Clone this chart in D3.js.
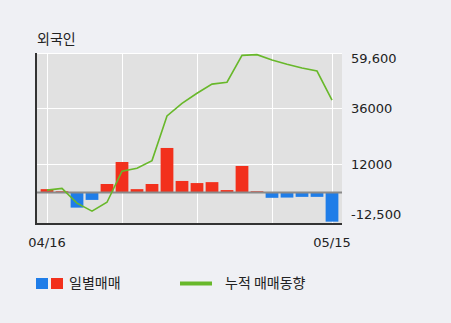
<!DOCTYPE html>
<html>
<head>
<meta charset="utf-8">
<script src="https://cdn.jsdelivr.net/npm/d3@7"></script>
<style>
    body { margin: 0; background: #eff0f4; }
    svg { display: block; font-family: "Noto Sans CJK KR", "Noto Sans", sans-serif; }
    .num { font-family: "DejaVu Sans", sans-serif; }
</style>
</head>
<body>
<svg id="drawing_region"></svg>
<script>
const dates = ["04/16","04/17","04/18","04/19","04/20","04/23","04/24","04/25","04/26","04/27",
               "04/30","05/02","05/03","05/04","05/08","05/09","05/10","05/11","05/14","05/15"];
const daily = [1400, 500, -6500, -3200, 3600, 13000, 1400, 3600, 19000, 4900,
               4000, 4400, 1000, 11300, 500, -2300, -2200, -1900, -1900, -12500];
const cumulative = [1000, 1700, -4600, -8000, -4200, 9100, 10300, 13600, 32700, 38100,
                    42400, 46300, 47100, 58600, 58900, 56600, 54800, 53200, 51900, 39500];
const yTicks = [59600, 36000, 12000, -12500];
const yTickLabels = ["59,600", "36000", "12000", "-12,500"];
const xTickLabels = ["04/16", "05/15"];

const config = {
    width: 451,
    height: 323,
    plot: {left: 36, right: 342, top: 53, bottom: 224}
};

const svg = d3.select('#drawing_region')
    .attr('width', config.width)
    .attr('height', config.height);

const p = config.plot;

// plot background
svg.append('rect')
    .attr('x', p.left).attr('y', p.top)
    .attr('width', p.right - p.left).attr('height', p.bottom - p.top)
    .attr('fill', '#e1e1e1');

const xscale = d3.scaleBand()
    .domain(dates)
    .range([39.5, 339.5])
    .paddingInner(0.15)
    .paddingOuter(0.075);

const xcenter = d => xscale(d) + xscale.bandwidth() / 2;

const yscale = d3.scaleLinear()
    .domain([-13500, 59600])
    .range([p.bottom, p.top]);

// horizontal grid
svg.append('g')
    .selectAll('line')
    .data(yTicks.slice(0, 3))
    .join('line')
    .attr('x1', p.left).attr('x2', p.right)
    .attr('y1', d => Math.round(yscale(d)) + 0.5)
    .attr('y2', d => Math.round(yscale(d)) + 0.5)
    .attr('stroke', '#ffffff')
    .attr('stroke-width', 1);

// vertical grid
const vgrid = [dates[0], dates[5], dates[10], dates[15], dates[19]];
svg.append('g')
    .selectAll('line')
    .data(vgrid)
    .join('line')
    .attr('x1', d => Math.round(xcenter(d)) + 0.5)
    .attr('x2', d => Math.round(xcenter(d)) + 0.5)
    .attr('y1', p.top).attr('y2', p.bottom)
    .attr('stroke', '#ffffff')
    .attr('stroke-width', 1);

// bars
svg.append('g')
    .selectAll('rect')
    .data(daily)
    .join('rect')
    .attr('x', (d, i) => xscale(dates[i]))
    .attr('width', xscale.bandwidth())
    .attr('y', d => yscale(Math.max(0, d)))
    .attr('height', d => Math.abs(yscale(d) - yscale(0)))
    .attr('fill', d => d >= 0 ? '#f2301c' : '#1f7de8');

// zero line
svg.append('line')
    .attr('x1', p.left).attr('x2', p.right)
    .attr('y1', yscale(0)).attr('y2', yscale(0))
    .attr('stroke', '#8a8a8a')
    .attr('stroke-width', 2);

// cumulative line
const line = d3.line()
    .x((d, i) => xcenter(dates[i]))
    .y(d => yscale(d));

svg.append('path')
    .datum(cumulative)
    .attr('d', line)
    .attr('fill', 'none')
    .attr('stroke', '#68b82a')
    .attr('stroke-width', 1.6);

// axes lines
svg.append('line')
    .attr('x1', p.left).attr('x2', p.left)
    .attr('y1', p.top).attr('y2', p.bottom + 1)
    .attr('stroke', '#333').attr('stroke-width', 2);
svg.append('line')
    .attr('x1', p.left).attr('x2', p.right)
    .attr('y1', p.bottom).attr('y2', p.bottom)
    .attr('stroke', '#333').attr('stroke-width', 2);

// right tick labels
const labelY = [58, 108, 164, 214];
svg.append('g')
    .selectAll('text')
    .data(yTickLabels)
    .join('text')
    .attr('class', 'num')
    .attr('x', 351)
    .attr('y', (d, i) => labelY[i])
    .attr('dy', '0.35em')
    .style('font-size', '13px')
    .attr('fill', '#222')
    .text(d => d);

// x labels
svg.append('g')
    .selectAll('text')
    .data(xTickLabels)
    .join('text')
    .attr('class', 'num')
    .attr('x', d => xcenter(d))
    .attr('y', 242)
    .attr('dy', '0.35em')
    .attr('text-anchor', 'middle')
    .style('font-size', '13px')
    .attr('fill', '#222')
    .text(d => d);

// title
svg.append('text')
    .attr('x', 37).attr('y', 39)
    .attr('dy', '0.35em')
    .style('font-size', '14px')
    .attr('fill', '#222')
    .text('외국인');

// legend
svg.append('rect').attr('x', 36).attr('y', 278).attr('width', 12).attr('height', 11).attr('fill', '#1f7de8');
svg.append('rect').attr('x', 51).attr('y', 278).attr('width', 12).attr('height', 11).attr('fill', '#f2301c');
svg.append('text')
    .attr('x', 69).attr('y', 283.5).attr('dy', '0.35em')
    .style('font-size', '14px').attr('fill', '#222')
    .text('일별매매');
svg.append('line')
    .attr('x1', 180).attr('x2', 212).attr('y1', 283.5).attr('y2', 283.5)
    .attr('stroke', '#68b82a').attr('stroke-width', 4);
svg.append('text')
    .attr('x', 225).attr('y', 283.5).attr('dy', '0.35em')
    .style('font-size', '14px').attr('fill', '#222')
    .text('누적 매매동향');
</script>
</body>
</html>
